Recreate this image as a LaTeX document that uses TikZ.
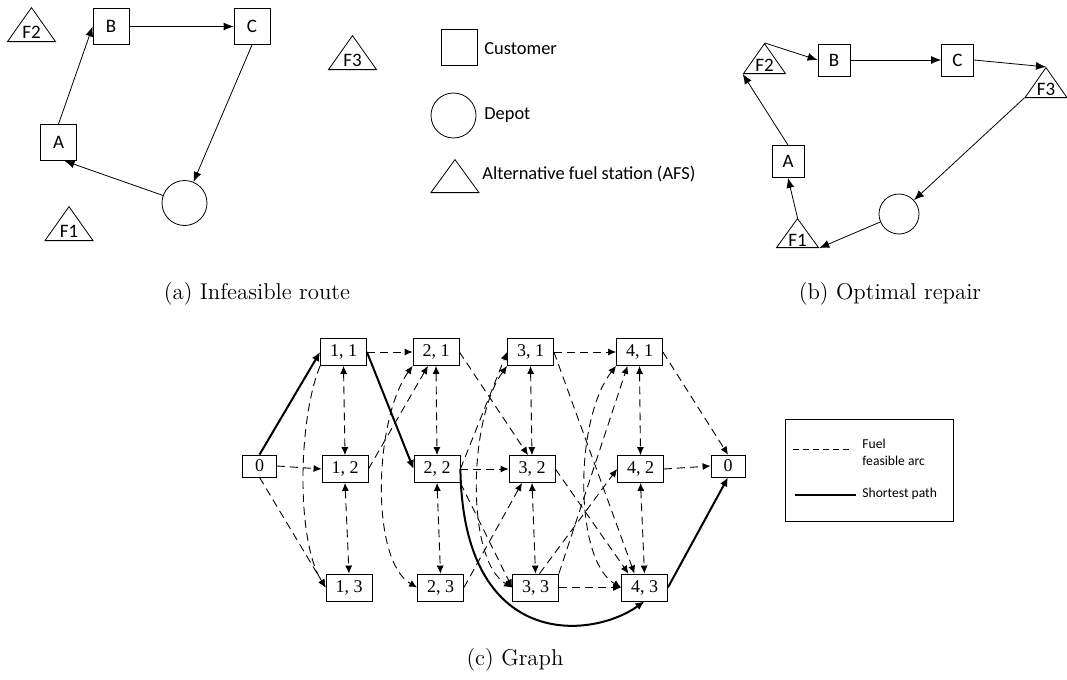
\documentclass[tikz,border=0pt]{standalone}
\usepackage{fontspec}
\newfontfamily\calibri{Carlito}
\newfontfamily\timesf{Liberation Serif}
\usetikzlibrary{arrows.meta,shapes.geometric}
\tikzset{
  cust/.style={draw, rectangle, minimum size=18pt, inner sep=0pt, font=\calibri\fontsize{9.5}{10}\selectfont},
  depot/.style={draw, circle, minimum size=22.5pt, inner sep=0pt},
  afs/.style={draw, isosceles triangle, isosceles triangle apex angle=70, isosceles triangle stretches,
    shape border rotate=90, minimum width=24pt, minimum height=17pt, inner sep=0pt, anchor=lower side,
    font=\calibri\fontsize{9.5}{10}\selectfont},
  route/.style={-{Latex[length=5pt,width=4pt]}, line width=0.4pt},
  state/.style={draw, rectangle, minimum width=23pt, minimum height=13.5pt, inner sep=0pt,
    font=\timesf\fontsize{9}{10}\selectfont},
  endpt/.style={state, minimum width=17pt, minimum height=11pt},
  fuel/.style={dash pattern=on 4pt off 2.5pt, line width=0.45pt, -{Latex[length=4pt,width=3.5pt]}},
  fuelboth/.style={fuel, {Latex[length=4pt,width=3.5pt]}-{Latex[length=4pt,width=3.5pt]}},
  best/.style={line width=1pt, -{Latex[length=4.5pt,width=4pt]}},
  capt/.style={font=\fontsize{11.4}{13}\selectfont},
  legtext/.style={font=\calibri\fontsize{9.2}{11}\selectfont, anchor=west, inner sep=0pt},
  keytext/.style={font=\calibri\fontsize{6.8}{8.5}\selectfont, align=left, anchor=west, inner sep=0pt}
}
\begin{document}
\begin{tikzpicture}[x=0.5pt, y=-0.5pt]
  \useasboundingbox (0,0) rectangle (1067,680);
  % (a) infeasible route
  \draw
    (31.5,42) node[afs] (aF2){F2}
    (69,241) node[afs] (aF1){F1}
    (352.5,70) node[afs] (aF3){F3}
    (111,26.5) node[cust] (aB){B}
    (252,26.5) node[cust] (aC){C}
    (58.5,142.5) node[cust] (aA){A}
    (184.5,203) node[depot] (aD){};
  \begin{scope}[route]
    \draw (aA.north) to (aB.west);
    \draw (aB) to (aC);
    \draw (aC.south) to (aD);
    \draw (aD) to ([xshift=3pt]aA.south);
  \end{scope}
  \draw
    (257,294) node[capt] (capa){(a) Infeasible route};
  % legend
  \draw
    (459.5,47.5) node[cust] (kC){}
    (453.5,115.5) node[depot] (kD){}
    (455,193) node[afs, minimum width=24pt, minimum height=16.5pt] (kF){}
    (484,49) node[legtext] (kCt){Customer}
    (484,115) node[legtext] (kDt){Depot}
    (482,174) node[legtext] (kFt){Alternative fuel station (AFS)};
  % (b) optimal repair
  \draw
    (764.5,74) node[afs, minimum width=21pt, minimum height=15pt] (bF2){F2}
    (1046,98) node[afs, minimum width=21pt, minimum height=15pt] (bF3){F3}
    (797.5,248) node[afs, minimum width=21pt, minimum height=14.5pt] (bF1){F1}
    (834,60) node[cust, minimum size=16pt] (bB){B}
    (957.5,60) node[cust, minimum size=16pt] (bC){C}
    (788,161.5) node[cust, minimum size=16pt] (bA){A}
    (899,214) node[depot, minimum size=20pt] (bD){};
  \begin{scope}[route]
    \draw (bF2.apex) to (bB.west);
    \draw (bB) to (bC);
    \draw (bC.east) to (bF3.apex);
    \draw (bF3.left corner) to (bD);
    \draw (bD) to (bF1.right corner);
    \draw (bF1.apex) to (bA.south);
    \draw (bA.north) to (bF2.left corner);
  \end{scope}
  \draw
    (890,294) node[capt] (capb){(b) Optimal repair};
  % (c) graph
  \draw
    (259.5,466) node[endpt] (g0){0}
    (343.5,352) node[state] (g11){1, 1}
    (345,469) node[state] (g12){1, 2}
    (349,587.5) node[state] (g13){1, 3}
    (436,352) node[state] (g21){2, 1}
    (437,469) node[state] (g22){2, 2}
    (440.5,587.5) node[state] (g23){2, 3}
    (530.5,352) node[state] (g31){3, 1}
    (532,469) node[state] (g32){3, 2}
    (535.5,587.5) node[state] (g33){3, 3}
    (639.5,352) node[state] (g41){4, 1}
    (640.5,469) node[state] (g42){4, 2}
    (644.5,587.5) node[state] (g43){4, 3}
    (728,466) node[endpt] (gz){0};
  \begin{scope}[fuel]
    \draw (g0.east) to (g12.west);
    \draw (g0.south) to (g13.west);
    \draw (g11.south west) .. controls (298,420) and (296,540) .. (g13.west);
    \draw (g11.east) to (g21.west);
    \draw (g12.east) to ([xshift=-4pt]g21.south);
    \draw (g21.east) to ([xshift=-2pt]g32.north);
    \draw (g22.east) to (g32.west);
    \draw (g22.east) to (g31.west);
    \draw (g22.south east) to (g33.west);
    \draw (g23.east) to ([xshift=-5pt]g32.south);
    \draw (g31.east) to (g41.west);
    \draw (g31.east) to ([xshift=-5pt]g43.north);
    \draw (g32.east) to ([xshift=-8pt]g43.north);
    \draw (g33.north east) to ([xshift=-6pt]g41.south);
    \draw ([xshift=2pt]g33.north) to (g42.west);
    \draw (g33.east) to (g43.west);
    \draw (g41.east) to (gz.north);
    \draw (g42.east) to (gz.west);
  \end{scope}
  \begin{scope}[fuelboth]
    \draw (g11.south) to (g12.north);
    \draw (g12.south) to (g13.north);
    \draw (g21.south) to (g22.north);
    \draw (g22.south) to (g23.north);
    \draw (g31.south) to (g32.north);
    \draw (g32.south) to (g33.north);
    \draw (g41.south) to (g42.north);
    \draw (g42.south) to (g43.north);
    \draw (g21.south west) .. controls (374,420) and (370,560) .. (g23.west);
    \draw (g31.south west) .. controls (468,420) and (466,560) .. (g33.west);
    \draw (g41.south west) .. controls (574,420) and (574,560) .. (g43.west);
  \end{scope}
  \begin{scope}[best]
    \draw (g0.north) to (g11.west);
    \draw (g11.east) to (g22.west);
    \draw (g22.east) .. controls (463,650) and (590,640) .. (g43.south);
    \draw (g43.east) to (gz.south);
  \end{scope}
  % key
  \draw[line width=0.5pt] (785,419) rectangle (953,521);
  \coordinate (k1a) at (793,449);
  \coordinate (k1b) at (853,449);
  \coordinate (k2a) at (795,495);
  \coordinate (k2b) at (856,495);
  \draw[dash pattern=on 3pt off 2pt, line width=0.4pt] (k1a) -- (k1b);
  \draw[line width=0.8pt] (k2a) -- (k2b);
  \draw
    (862,452) node[keytext] (kfuel){Fuel\\feasible arc}
    (862,494) node[keytext] (kbest){Shortest path};
  \draw
    (515,660) node[capt] (capc){(c) Graph};
\end{tikzpicture}
\end{document}
